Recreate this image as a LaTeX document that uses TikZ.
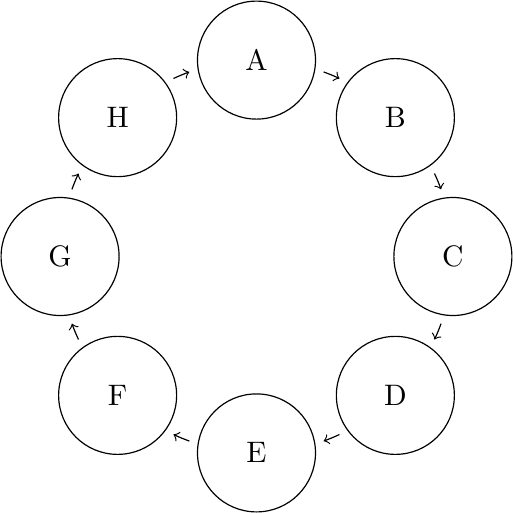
\documentclass[tikz,border=0pt]{standalone}
\usetikzlibrary{calc}

\begin{document}
\begin{tikzpicture}[state/.style={draw, circle, minimum size=1.4cm, inner sep=0pt}]
\useasboundingbox (-3.043,-3.043) rectangle (3.043,3.043);
\foreach \s/\n in {0/A,1/B,2/C,3/D,4/E,5/F,6/G,7/H} \node[state] (\n) at ({90-45*\s}:2.33) {\n};
% short arcs on the ring, from one state towards the next
\foreach \s/\n in {0/A,1/B,2/C,3/D,4/E,5/F,6/G,7/H} {
  \coordinate (from\n) at ({90-45*\s-20}:2.33);
  \draw[->] (from\n) arc[start angle={90-45*\s-20}, end angle={90-45*\s-25}, radius=2.33];
}
\end{tikzpicture}
\end{document}
